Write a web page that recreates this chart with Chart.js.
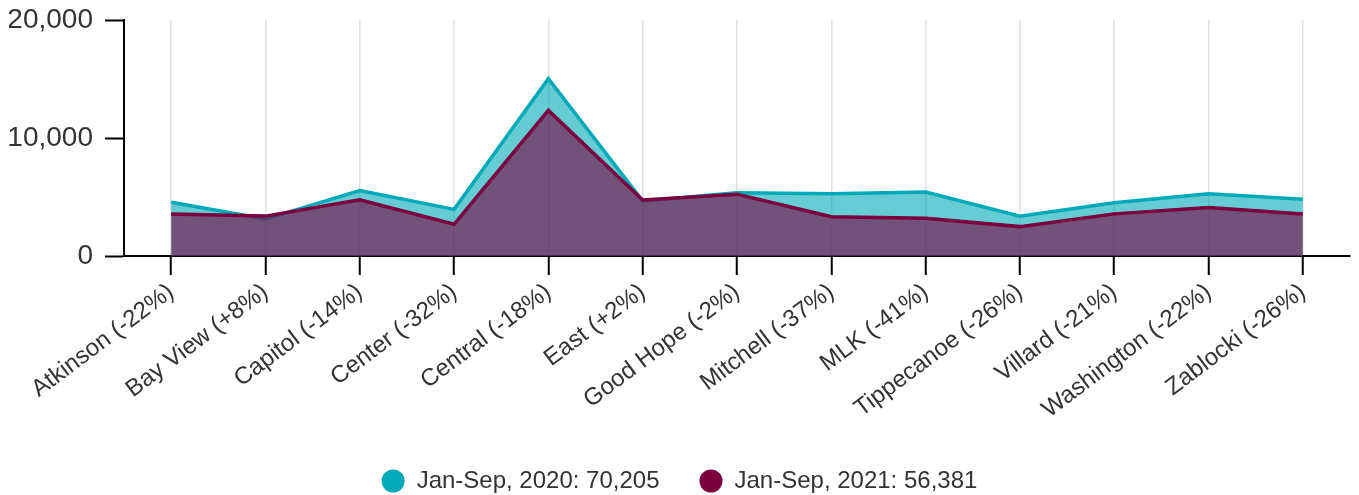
<!DOCTYPE html>
<html>
<head>
<meta charset="utf-8">
<script src="https://cdn.jsdelivr.net/npm/chart.js@4"></script>
<style>
  html, body { margin: 0; padding: 0; background: #fff; overflow: hidden; }
  #wrap { position: relative; width: 1359px; height: 503px; }
</style>
</head>
<body>
<div id="wrap"><canvas id="c"></canvas></div>
<script>
const categories = ["Atkinson (-22%)", "Bay View (+8%)", "Capitol (-14%)", "Center (-32%)", "Central (-18%)", "East (+2%)", "Good Hope (-2%)", "Mitchell (-37%)", "MLK (-41%)", "Tippecanoe (-26%)", "Villard (-21%)", "Washington (-22%)", "Zablocki (-26%)"];
const values2020 = [4560, 3130, 5550, 3950, 15020, 4660, 5350, 5280, 5420, 3370, 4520, 5280, 4800];
const values2021 = [3560, 3380, 4770, 2690, 12340, 4750, 5240, 3330, 3200, 2490, 3570, 4120, 3550];
const seriesLabels = ["Jan-Sep, 2020: 70,205", "Jan-Sep, 2021: 56,381"];
const yTicks = [0, 10000, 20000];

const FONT = "'Liberation Sans', Arial, Helvetica, sans-serif";
const TEXT = '#333333';

new Chart(document.getElementById('c'), {
  type: 'line',
  data: {
    labels: categories,
    datasets: [
      {
        label: seriesLabels[0],
        data: values2020,
        borderColor: '#00a9b8',
        backgroundColor: 'rgba(0,170,184,0.6)',
        fill: 'origin',
        borderWidth: 3.5,
        pointRadius: 0,
        pointHoverRadius: 0,
        pointStyle: 'circle',
        tension: 0,
        order: 1
      },
      {
        label: seriesLabels[1],
        data: values2021,
        borderColor: '#7a003e',
        backgroundColor: 'rgba(122,0,64,0.6)',
        fill: 'origin',
        borderWidth: 3.5,
        pointRadius: 0,
        pointHoverRadius: 0,
        pointStyle: 'circle',
        tension: 0,
        order: 0
      }
    ]
  },
  options: {
    responsive: true,
    maintainAspectRatio: false,
    animation: false,
    events: [],
    layout: { padding: { top: 20, right: 9, left: 9, bottom: 0 } },
    plugins: {
      tooltip: { enabled: false },
      legend: {
        position: 'bottom',
        labels: {
          usePointStyle: true,
          pointStyle: 'circle',
          boxHeight: 16.3,
          pointStyleWidth: 23,
          padding: 40,
          color: TEXT,
          font: { family: FONT, size: 24 },
          sort: (a, b) => a.datasetIndex - b.datasetIndex,
          generateLabels: (chart) => {
            const items = Chart.defaults.plugins.legend.labels.generateLabels(chart);
            items.forEach(it => { it.fillStyle = chart.data.datasets[it.datasetIndex].borderColor; it.strokeStyle = it.fillStyle; it.lineWidth = 0; });
            return items;
          }
        }
      }
    },
    scales: {
      x: {
        type: 'category',
        offset: true,
        grid: {
          offset: false,
          display: true,
          drawOnChartArea: true,
          color: '#e0e0e0',
          lineWidth: 1.5,
          tickColor: '#000',
          tickWidth: 2,
          tickLength: 19
        },
        border: { display: true, color: '#000', width: 2 },
        ticks: {
          color: TEXT,
          font: { family: FONT, size: 24 },
          minRotation: 37,
          maxRotation: 37,
          autoSkip: false,
          padding: 3
        },
        afterFit: (scale) => { scale.height = 173; }
      },
      y: {
        min: 0,
        max: 20000,
        afterBuildTicks: (scale) => { scale.ticks = yTicks.map(v => ({ value: v })); },
        grid: {
          drawOnChartArea: false,
          color: '#000',
          tickColor: '#000',
          tickWidth: 2,
          tickLength: 19
        },
        border: { display: true, color: '#000', width: 2 },
        ticks: {
          color: TEXT,
          font: { family: FONT, size: 28, lineHeight: 0.4 },
          padding: 12,
          callback: (v) => Number(v).toLocaleString('en-US')
        },
        afterFit: (scale) => { scale.width = 115; }
      }
    }
  }
});
</script>
</body>
</html>
